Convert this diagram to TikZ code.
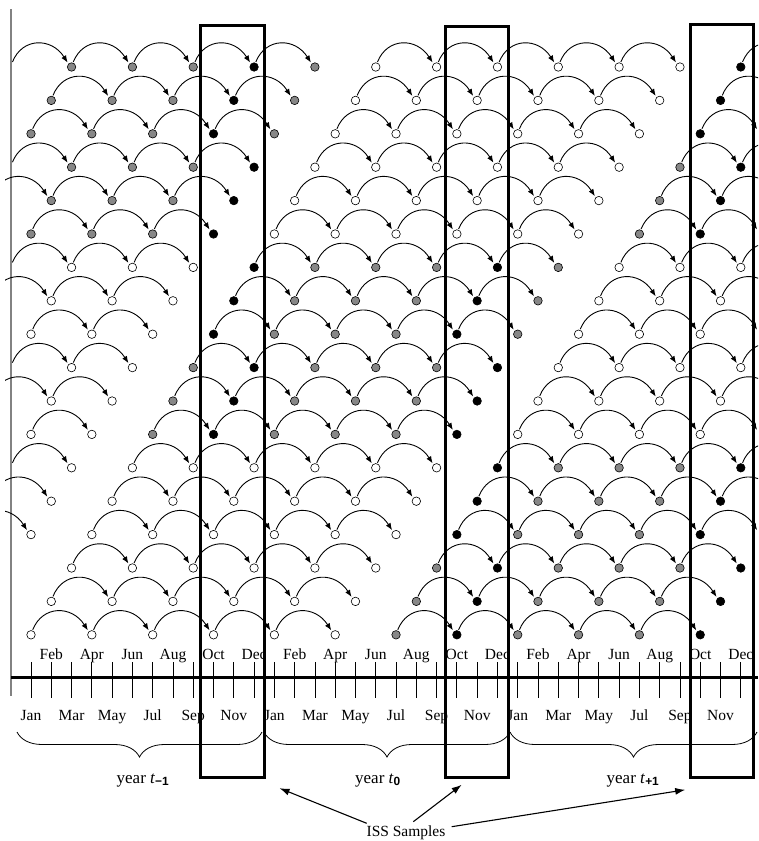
\documentclass[tikz,border=0pt]{standalone}
\usepackage{fontspec}
\setmainfont{Liberation Serif}
\newfontfamily\subsans{Liberation Sans}
\usetikzlibrary{arrows.meta,calc,decorations.pathreplacing}
\definecolor{dotgray}{RGB}{135,135,135}
\definecolor{linegray}{RGB}{130,130,130}
\newcommand\dotrow[2]{%
  \foreach \m/\c in {#2}{%
    \node[pt\c] (d-#1-\m) at ({31+20.28*\m},{67+33.4*(#1-1)}) {};
  }%
}
\newcommand\arcrow[2]{%
  \foreach \m in {#2}{%
    \pgfmathsetmacro\xa{31+20.28*(\m-3)+1.7}%
    \pgfmathsetmacro\xb{31+20.28*\m-4}%
    \pgfmathsetmacro\yy{67+33.4*(#1-1)}%
    \coordinate (s-#1-\m) at (\xa,\yy-5);
    \coordinate (e-#1-\m) at (\xb,\yy-4.5);
    \draw[arcline] (s-#1-\m) .. controls ($(s-#1-\m)+(10,-25)$) and ($(e-#1-\m)+(-16,-25)$) .. (e-#1-\m);
  }%
}
\begin{document}
\begin{tikzpicture}[x=1pt,y=-1pt,
  ptbase/.style={circle,draw=black,line width=0.6pt,inner sep=0pt,minimum size=8.5pt},
  ptg/.style={ptbase,fill=dotgray},
  ptb/.style={ptbase,fill=black},
  ptw/.style={ptbase,fill=white},
  arcline/.style={line width=0.9pt,-{Latex[length=7pt,width=5.5pt]}},
  tickline/.style={line width=0.8pt},
  mlab/.style={font=\fontsize{15.5}{16}\selectfont,anchor=base,inner sep=0pt},
  ylab/.style={font=\fontsize{17}{18}\selectfont,anchor=base,inner sep=0pt},
  issbox/.style={draw=black,line width=3pt,inner sep=0pt,rectangle},
  bracestyle/.style={decorate,decoration={brace,amplitude=25pt,mirror},line width=0.8pt},
  issarrow/.style={line width=1.1pt,-{Latex[length=10pt,width=7pt]}}]
\useasboundingbox (0,0) rectangle (758,841);
% left gray line
\draw[linegray,line width=1.6pt] (11,9) -- (11,696);
\begin{scope}
\clip (5,0) rectangle (758,841);
\dotrow{1}{2/g,5/g,8/g,11/b,14/g,17/w,20/w,23/w,26/w,29/w,32/w,35/b}
\arcrow{1}{2,5,8,11,14,20,23,26,29,32,38}
\dotrow{2}{1/g,4/g,7/g,10/b,13/g,16/w,19/w,22/w,25/w,28/w,31/w,34/b}
\arcrow{2}{4,7,10,13,19,22,25,28,31,37}
\dotrow{3}{0/g,3/g,6/g,9/b,12/g,15/w,18/w,21/w,24/w,27/w,30/w,33/b}
\arcrow{3}{3,6,9,12,18,21,24,27,30,36}
\dotrow{4}{2/g,5/g,8/g,11/b,14/w,17/w,20/w,23/w,26/w,29/w,32/g,35/b}
\arcrow{4}{2,5,8,11,17,20,23,26,29,35,38}
\dotrow{5}{1/g,4/g,7/g,10/b,13/w,16/w,19/w,22/w,25/w,28/w,31/g,34/b}
\arcrow{5}{1,4,7,10,16,19,22,25,28,34,37}
\dotrow{6}{0/g,3/g,6/g,9/b,12/w,15/w,18/w,21/w,24/w,27/w,30/g,33/b}
\arcrow{6}{3,6,9,15,18,21,24,27,33,36}
\dotrow{7}{2/w,5/w,8/w,11/b,14/g,17/g,20/g,23/b,26/g,29/w,32/w,35/w}
\arcrow{7}{2,5,8,14,17,20,23,26,32,35,38}
\dotrow{8}{1/w,4/w,7/w,10/b,13/g,16/g,19/g,22/b,25/g,28/w,31/w,34/w}
\arcrow{8}{1,4,7,13,16,19,22,25,31,34,37}
\dotrow{9}{0/w,3/w,6/w,9/b,12/g,15/g,18/g,21/b,24/g,27/w,30/w,33/w}
\arcrow{9}{3,6,12,15,18,21,24,30,33,36}
\dotrow{10}{2/w,5/w,8/g,11/b,14/g,17/g,20/g,23/b,26/w,29/w,32/w,35/w}
\arcrow{10}{2,5,11,14,17,20,23,29,32,35,38}
\dotrow{11}{1/w,4/w,7/g,10/b,13/g,16/g,19/g,22/b,25/w,28/w,31/w,34/w}
\arcrow{11}{1,4,10,13,16,19,22,28,31,34,37}
\dotrow{12}{0/w,3/w,6/g,9/b,12/g,15/g,18/g,21/b,24/w,27/w,30/w,33/w}
\arcrow{12}{3,9,12,15,18,21,27,30,33,36}
\dotrow{13}{2/w,5/w,8/w,11/w,14/w,17/w,20/w,23/b,26/g,29/g,32/g,35/b}
\arcrow{13}{2,8,11,14,17,20,26,29,32,35,38}
\dotrow{14}{1/w,4/w,7/w,10/w,13/w,16/w,19/w,22/b,25/g,28/g,31/g,34/b}
\arcrow{14}{1,7,10,13,16,19,25,28,31,34,37}
\dotrow{15}{0/w,3/w,6/w,9/w,12/w,15/w,18/w,21/b,24/g,27/g,30/g,33/b}
\arcrow{15}{0,6,9,12,15,18,24,27,30,33,36}
\dotrow{16}{2/w,5/w,8/w,11/w,14/w,17/w,20/g,23/b,26/g,29/g,32/g,35/b}
\arcrow{16}{5,8,11,14,17,23,26,29,32,35}
\dotrow{17}{1/w,4/w,7/w,10/w,13/w,16/w,19/g,22/b,25/g,28/g,31/g,34/b}
\arcrow{17}{4,7,10,13,16,22,25,28,31,34}
\dotrow{18}{0/w,3/w,6/w,9/w,12/w,15/w,18/g,21/b,24/g,27/g,30/g,33/b}
\arcrow{18}{3,6,9,12,15,21,24,27,30,33}
\end{scope}
% axis
\coordinate (axl) at (11,677.7);
\coordinate (axr) at (758,677.7);
\draw[line width=2.6pt] (axl) -- (axr);
\foreach \m in {0,...,35}{
  \draw[tickline] ({31+20.28*\m},662) -- ({31+20.28*\m},698);
}
\foreach \yr in {0,1,2}{
  \foreach \m/\t in {1/Feb,3/Apr,5/Jun,7/Aug,9/Oct,11/Dec}{
    \node[mlab] (up-\yr-\m) at ({31+20.28*(12*\yr+\m)},659) {\t};
  }
  \foreach \m/\t in {0/Jan,2/Mar,4/May,6/Jul,8/Sep,10/Nov}{
    \node[mlab] (lo-\yr-\m) at ({31+20.28*(12*\yr+\m)},720) {\t};
  }
}
% braces
\draw[bracestyle] (17,732) -- (262,732);
\draw[bracestyle] (264,732) -- (510,732);
\draw[bracestyle] (510,732) -- (757,732);
\node[ylab] (y1) at (143,783) {year \textit{t}\textsubscript{\subsans\bfseries \char"2212 1}};
\node[ylab] (y2) at (378,783) {year \textit{t}\textsubscript{\subsans\bfseries 0}};
\node[ylab] (y3) at (633,783) {year \textit{t}\textsubscript{\subsans\bfseries +1}};
% ISS boxes
\node[issbox,minimum width=63.7pt,minimum height=752.7pt] (box1) at (232.15,401.35) {};
\node[issbox,minimum width=62.8pt,minimum height=751pt] (box2) at (476.9,401.5) {};
\node[issbox,minimum width=62.3pt,minimum height=753.7pt] (box3) at (721.85,400.85) {};
% ISS label and arrows
\node[mlab] (iss) at (406,836) {ISS Samples};
\coordinate (t1) at (366.7,823.3);
\coordinate (t2) at (413.3,821.7);
\coordinate (t3) at (451.7,826.7);
\coordinate (h1) at ([shift={(14,9)}]box1.south east);
\coordinate (h2) at ([shift={(-15.3,6.3)}]box2.south);
\coordinate (h3) at ([shift={(-4,10.6)}]box3.south west);
\draw[issarrow] (t1) -- (h1);
\draw[issarrow] (t2) -- (h2);
\draw[issarrow] (t3) -- (h3);
\end{tikzpicture}
\end{document}
